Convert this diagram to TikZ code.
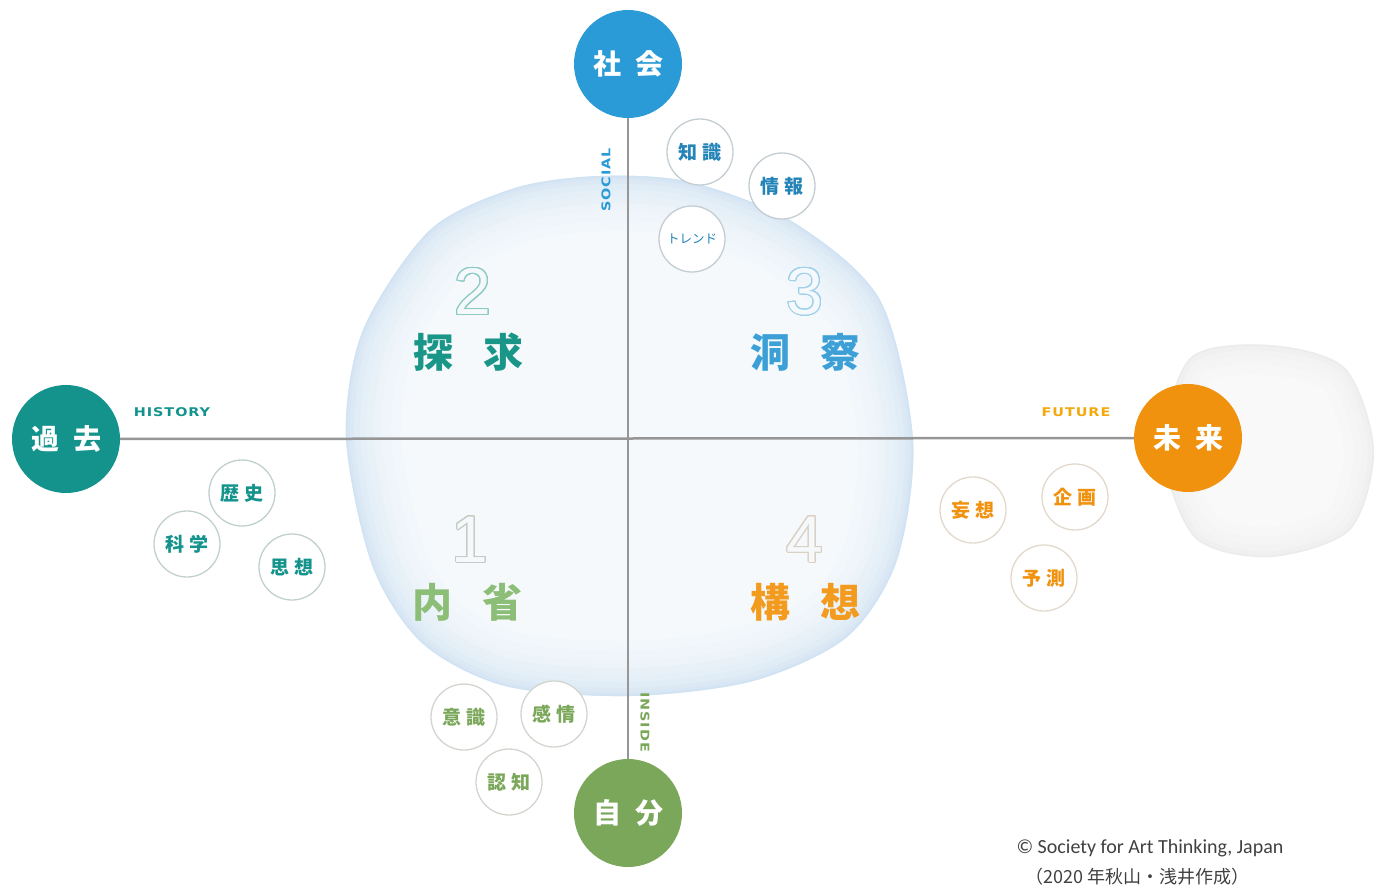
\documentclass[tikz,border=0pt]{standalone}
\usepackage{fontspec}
\usepackage{contour}
\setmainfont{Carlito}
\newfontfamily\jp{Noto Sans CJK JP}
\newfontfamily\digitfont{Liberation Sans}
\newfontfamily\axisfont{DejaVu Sans}[LetterSpace=8,FakeStretch=1.2]
\definecolor{socialblue}{RGB}{43,155,216}
\definecolor{pastteal}{RGB}{19,147,140}
\definecolor{futureorange}{RGB}{240,146,14}
\definecolor{selfgreen}{RGB}{123,167,90}
\definecolor{seekteal}{RGB}{25,150,135}
\definecolor{insightblue}{RGB}{60,160,215}
\definecolor{reflectgreen}{RGB}{140,190,120}
\definecolor{visionorange}{RGB}{242,155,30}
\definecolor{axisgrey}{RGB}{150,150,150}
\definecolor{bubbleout}{RGB}{205,225,242}
\definecolor{bubblein}{RGB}{245,249,252}
\definecolor{greyout}{RGB}{232,232,232}
\definecolor{greyin}{RGB}{249,249,249}
\contourlength{1pt}
\contournumber{24}
\begin{document}
\begin{tikzpicture}[x=1pt,y=-1pt,
big node/.style={circle,minimum size=108pt,inner sep=0pt,text=white,font=\jp\bfseries\fontsize{28}{28}\selectfont},
small node/.style={circle,draw,line width=1.3pt,fill=white,minimum size=66pt,inner sep=0pt,font=\jp\bfseries\fontsize{19}{19}\selectfont},
quad node/.style={font=\jp\bfseries\fontsize{40}{40}\selectfont},
num node/.style={font=\digitfont\fontsize{66}{66}\selectfont},
axis label/.style={font=\axisfont\bfseries\fontsize{12}{12}\selectfont},
axis line/.style={draw=axisgrey,line width=2.5pt}]%
\useasboundingbox (0,0) rectangle (1377,889);
\path[save path=\bubbleline] plot[smooth cycle] coordinates {(600,176) (690,182) (793,222) (880,300) (913,440) (897,560) (847,637) (753,681) (630,696) (505,686) (422,643) (372,565) (346,437) (363,330) (430,230) (515,188)};
\path[save path=\greyline] plot[smooth cycle] coordinates {(1190,358) (1270,345) (1345,368) (1374,450) (1350,530) (1270,557) (1195,538) (1163,450)};
\fill[bubblein,use path=\bubbleline];
\begin{scope}
\clip[use path=\bubbleline];
\foreach \w/\o in {110/0.06,90/0.07,70/0.08,55/0.1,40/0.12,28/0.15,16/0.2,8/0.3,3/0.6}
  \draw[bubbleout,line width=\w pt,opacity=\o,use path=\bubbleline];
\end{scope}
\fill[greyin,use path=\greyline];
\begin{scope}
\clip[use path=\greyline];
\foreach \w/\o in {60/0.1,40/0.12,24/0.15,12/0.2,3/0.5}
  \draw[greyout,line width=\w pt,opacity=\o,use path=\greyline];
\end{scope}
\node[num node] (n2) at (473,292) {\contour{seekteal!50}{\textcolor{bubblein}{2}}};
\node[num node] (n3) at (805,292) {\contour{insightblue!50}{\textcolor{bubblein}{3}}};
\node[num node] (n1) at (470,540) {\contour{reflectgreen!45!black!30}{\textcolor{bubblein}{1}}};
\node[num node] (n4) at (805,540) {\contour{visionorange!45!black!25}{\textcolor{bubblein}{4}}};
\node[quad node,text=seekteal] (seek) at (468,352) {探\hspace{0.75em}求};
\node[quad node,text=insightblue] (insight) at (805,352) {洞\hspace{0.75em}察};
\node[quad node,text=reflectgreen] (reflect) at (467,602) {内\hspace{0.75em}省};
\node[quad node,text=visionorange] (vision) at (805,602) {構\hspace{0.75em}想};
\node[big node,fill=socialblue] (social) at (628,64) {社\hspace{0.5em}会};
\node[big node,fill=pastteal] (past) at (66,439) {過\hspace{0.5em}去};
\node[big node,fill=futureorange] (future) at (1188,438) {未\hspace{0.5em}来};
\node[big node,fill=selfgreen] (self) at (628,813) {自\hspace{0.5em}分};
\draw[axis line] (past) -- (future);
\draw[axis line] (social) -- (self);
\node[axis label,text=socialblue,rotate=90] (sociallbl) at (606,180) {SOCIAL};
\node[axis label,text=pastteal] (historylbl) at (172,412) {HISTORY};
\node[axis label,text=futureorange!80!yellow] (futurelbl) at (1076,412) {FUTURE};
\node[axis label,text=selfgreen,rotate=-90] (insidelbl) at (645,722) {INSIDE};
\node[small node,draw=socialblue!35!black!25,text=socialblue!85!black] (knowledge) at (700,152) {知\hspace{0.3em}識};
\node[small node,draw=socialblue!35!black!25,text=socialblue!85!black] (info) at (782,186) {情\hspace{0.3em}報};
\node[small node,draw=socialblue!35!black!25,text=socialblue!85!black,font=\jp\fontsize{12.5}{12.5}\selectfont] (trend) at (692,239) {トレンド};
\node[small node,draw=pastteal!45!black!25,text=pastteal] (history) at (242,493) {歴\hspace{0.3em}史};
\node[small node,draw=pastteal!45!black!25,text=pastteal] (science) at (187,544) {科\hspace{0.3em}学};
\node[small node,draw=pastteal!45!black!25,text=pastteal] (thought) at (292,567) {思\hspace{0.3em}想};
\node[small node,draw=futureorange!45!black!20,text=futureorange] (fancy) at (973,510) {妄\hspace{0.3em}想};
\node[small node,draw=futureorange!45!black!20,text=futureorange] (plan) at (1075,497) {企\hspace{0.3em}画};
\node[small node,draw=futureorange!45!black!20,text=futureorange] (forecast) at (1044,578) {予\hspace{0.3em}測};
\node[small node,draw=selfgreen!40!black!22,text=selfgreen] (aware) at (464,717) {意\hspace{0.3em}識};
\node[small node,draw=selfgreen!40!black!22,text=selfgreen] (emotion) at (554,714) {感\hspace{0.3em}情};
\node[small node,draw=selfgreen!40!black!22,text=selfgreen] (cognition) at (509,782) {認\hspace{0.3em}知};
\node[anchor=west,font=\fontsize{20}{20}\selectfont,text=black!75] (copy) at (1013,848) {© Society for Art Thinking, Japan};
\node[anchor=west,font=\jp\fontsize{18}{18}\selectfont,text=black!75] (made) at (1022,877) {（2020 年秋山・浅井作成）};
\end{tikzpicture}
\end{document}
